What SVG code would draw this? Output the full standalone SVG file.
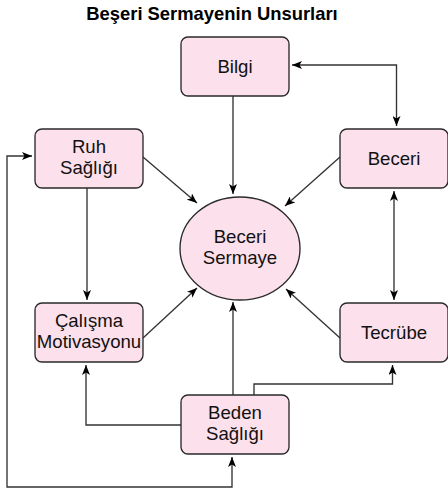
<svg xmlns="http://www.w3.org/2000/svg" width="448" height="495" viewBox="0 0 448 495">
<style>
.n{fill:#FCE0EB;stroke:#2a2a2a;stroke-width:1.35}
.t{font-family:"Liberation Sans",Arial,sans-serif;font-size:18.6px;fill:#111;text-anchor:middle}
.ttl{font-family:"Liberation Sans",Arial,sans-serif;font-size:18.4px;font-weight:bold;fill:#000;text-anchor:middle}
.e{fill:none;stroke:#333;stroke-width:1.35}
</style>
<defs>
<marker id="a" viewBox="0 0 10 8" refX="10" refY="4" markerWidth="10" markerHeight="8" markerUnits="userSpaceOnUse" orient="auto-start-reverse">
<path d="M0,0 L10,4 L0,8 L2.5,4 z" fill="#000"/>
</marker>
</defs>
<rect width="448" height="495" fill="#fff"/>
<text class="ttl" x="212" y="20">Beşeri Sermayenin Unsurları</text>
<g id="connectors">
<path class="e" d="M233,96 V194" marker-end="url(#a)"/>
<path class="e" d="M292,65 H396.5 V126" marker-start="url(#a)" marker-end="url(#a)"/>
<path class="e" d="M143,157 L197,203" marker-end="url(#a)"/>
<path class="e" d="M340,157 L285,206" marker-end="url(#a)"/>
<path class="e" d="M87,188 V300" marker-end="url(#a)"/>
<path class="e" d="M394,191 V300" marker-start="url(#a)" marker-end="url(#a)"/>
<path class="e" d="M143,338 L197,288" marker-end="url(#a)"/>
<path class="e" d="M340,338 L286,289" marker-end="url(#a)"/>
<path class="e" d="M233,395 V302" marker-end="url(#a)"/>
<path class="e" d="M181,425 H86 V365" marker-end="url(#a)"/>
<path class="e" d="M254,395 V384 H392.5 V365" marker-end="url(#a)"/>
<path class="e" d="M32,156 H7 V487 H232 V457" marker-start="url(#a)" marker-end="url(#a)"/>
</g>
<g id="bilgi"><rect class="n" x="181" y="37" width="108" height="59" rx="7"/><text class="t" x="235" y="72.5">Bilgi</text></g>
<g id="ruh"><rect class="n" x="35" y="129" width="108" height="59" rx="7"/><text class="t" x="89" y="152.5">Ruh</text><text class="t" x="89" y="174">Sağlığı</text></g>
<g id="beceri"><rect class="n" x="340" y="129" width="108" height="59" rx="7"/><text class="t" x="394" y="164.5">Beceri</text></g>
<g id="sermaye"><ellipse class="n" cx="240" cy="248.5" rx="60" ry="51.5"/><text class="t" x="240" y="242.5">Beceri</text><text class="t" x="240" y="264">Sermaye</text></g>
<g id="calisma"><rect class="n" x="35" y="303" width="108" height="59" rx="7"/><text class="t" x="89" y="326.5">Çalışma</text><text class="t" x="89" y="348">Motivasyonu</text></g>
<g id="tecrube"><rect class="n" x="340" y="303" width="108" height="59" rx="7"/><text class="t" x="394" y="338.5">Tecrübe</text></g>
<g id="beden"><rect class="n" x="181" y="395" width="108" height="59" rx="7"/><text class="t" x="235" y="418.5">Beden</text><text class="t" x="235" y="440">Sağlığı</text></g>
</svg>
